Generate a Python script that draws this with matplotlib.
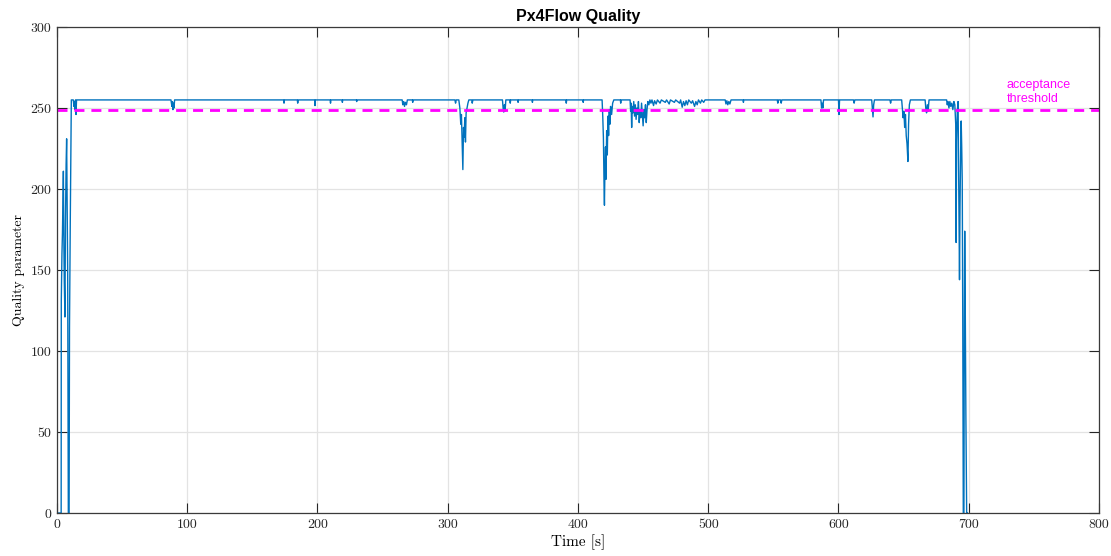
"""
Px4Flow quality parameter over time, with the acceptance threshold.
"""
import matplotlib
matplotlib.use("Agg")
import matplotlib.pyplot as plt

# ── data ──
time_s = [
    0, 3.2, 3.3, 3.8, 4.2, 4.9, 5.3, 5.6, 6.1, 6.5, 7.0, 7.4, 7.7, 8.2, 8.7, 9.3, 9.6, 10.2, 11.0,
    12.5, 13.0, 13.4, 13.8, 14.2, 14.6, 15.0,
    87.5, 88.2, 88.6, 89.0, 89.4, 89.8, 90.3,
    174.0, 174.3, 174.6, 184.5, 184.8, 185.2, 197.8, 198.1, 198.4, 209.7, 210.0, 210.3,
    218.8, 219.1, 219.4, 229.8, 230.1, 230.4,
    265.0, 265.5, 266.2, 266.8, 267.5, 268.3, 269.0, 272.8, 273.1, 273.4,
    305.5, 306.0, 306.5,
    308.5, 309.3, 310.0, 310.5, 311.0, 311.6, 312.1, 312.6, 313.1, 313.6, 314.1, 314.8, 315.5, 316.2,
    318.5, 318.8, 319.3,
    342.0, 342.5, 343.0, 343.5, 344.0, 344.6, 347.7, 348.0, 348.3, 353.7, 354.0, 354.3,
    364.7, 365.0, 365.3, 390.7, 391.0, 391.3, 403.7, 404.0, 404.3,
    418.5, 419.0, 419.5, 420.0, 420.3, 420.7, 421.1, 421.5, 422.0, 422.5, 423.0, 423.5, 424.0,
    424.5, 425.0, 425.8, 426.6, 427.5, 432.5, 432.8, 433.1,
    440.0, 440.4, 440.8, 441.2, 441.6, 442.2, 442.8, 443.4, 444.0, 444.6, 445.2, 445.8, 446.4,
    447.0, 447.6, 448.2, 448.8, 449.4, 450.0, 450.6, 451.2, 451.8, 452.4, 453.0, 453.6, 454.4,
    455.2, 456.0, 456.8, 458.0, 458.8, 460.0, 461.0, 463.0, 464.0, 467.0, 468.0, 470.0, 471.0,
    474.0, 475.0, 478.0, 478.8, 480.0, 481.0, 482.0, 483.0, 484.0, 485.0, 487.0, 488.0, 489.5,
    490.5, 491.5, 492.5, 494.0, 495.0, 496.5, 497.5,
    513.0, 513.6, 514.3, 515.0, 515.8, 516.6, 517.5, 526.7, 527.0, 527.3,
    553.0, 553.4, 553.8, 555.5, 556.0, 556.5,
    586.5, 587.0, 587.5, 588.0, 588.5, 600.0, 600.4, 600.8, 611.5, 612.0, 612.5,
    625.5, 626.0, 626.5, 627.0, 627.6, 639.5, 640.0, 640.5,
    648.5, 649.0, 649.6, 650.2, 650.8, 651.4, 652.0, 652.6, 653.3, 653.8, 654.4, 655.2,
    666.5, 667.0, 667.6, 668.2, 668.8, 669.5,
    683.0, 683.5, 684.0, 684.8, 685.5, 686.2, 687.0, 687.8, 688.6, 689.3,
    690.0, 690.3, 690.7, 691.2, 691.8, 692.3, 692.9, 693.3, 693.8, 694.2, 694.6, 695.0, 695.4,
    695.8, 696.3, 696.6, 696.9, 697.3, 697.8, 698.4, 699.0,
]
quality = [
    0, 0, 131, 160, 173, 211, 165, 143, 121, 180, 215, 231, 200, 150, 0, 0, 115, 180, 255,
    255, 251, 254, 249, 255, 246, 255,
    255, 251, 254, 249, 253, 250, 255,
    255, 253, 255, 255, 253, 255, 255, 251.5, 255, 255, 253, 255,
    255, 253.5, 255, 255, 254, 255,
    255, 252, 254, 251, 253.5, 252, 255, 255, 253.5, 255,
    255, 253, 255,
    255, 250, 240, 246, 230, 212, 238, 232, 244, 229, 247, 250, 253, 255,
    255, 253, 255,
    255, 250, 247.5, 252, 248, 255, 255, 253, 255, 255, 253.5, 255,
    255, 253.5, 255, 255, 253, 255, 255, 253.5, 255,
    255, 245, 232, 202, 190, 214, 226, 206, 236, 221, 245, 233, 249,
    240, 251, 246, 253, 255, 255, 253, 255,
    255, 248, 253, 238, 251, 247, 254, 245, 252, 243, 250, 246, 254,
    241, 249, 244, 253, 246, 239, 249, 244, 252, 241, 249, 254, 252,
    255, 253, 255, 251.5, 254.5, 252.5, 255, 253, 255, 253.5, 255, 252.5, 255,
    253.5, 255, 253, 255, 250.5, 254, 251.5, 254.5, 252, 255, 253, 254.5, 251,
    254, 252, 255, 253, 255, 253.5, 255,
    255, 252.5, 254.5, 252, 254, 252.5, 255, 255, 253.5, 255,
    255, 253, 255, 255, 253, 255,
    255, 250, 253, 250, 255, 255, 246, 255, 255, 253, 255,
    255, 250, 244.5, 252, 255, 255, 253, 255,
    255, 250, 244, 248, 238, 246, 233, 228, 217, 240, 252, 255,
    255, 250, 247, 252, 248, 255,
    255, 252, 254, 250, 254, 251, 253, 249, 254, 252,
    240, 167, 230, 248, 254, 200, 144, 190, 225, 242, 226, 205, 120,
    0, 0, 120, 174, 130, 60, 0, 0,
]
threshold = 249
x_ticks = [0, 100, 200, 300, 400, 500, 600, 700, 800]
y_ticks = [0, 50, 100, 150, 200, 250, 300]

fig = plt.figure(figsize=(11.11, 5.56), dpi=100)
ax = fig.add_axes([0.0513, 0.0773, 0.9379, 0.8741])

ax.plot(time_s, quality, color="#0072BD", lw=1.0)
ax.axhline(threshold, color="#FF00FF", lw=2.0, dashes=(3.6, 2.5))
ax.text(729, 253.5, "acceptance\nthreshold", color="#FF00FF", fontsize=9,
        fontfamily="Liberation Sans", linespacing=1.3)

ax.set_xlim(0, 800); ax.set_ylim(0, 300)
ax.set_xticks(x_ticks); ax.set_yticks(y_ticks)
ax.grid(True, color="#E3E3E3", lw=0.9)
ax.set_axisbelow(True)
ax.tick_params(direction="in", length=7, width=0.8, colors="#262626",
               top=True, right=True, labelsize=10, pad=4)
for lab in ax.get_xticklabels() + ax.get_yticklabels():
    lab.set_fontfamily("cmr10")
for sp in ax.spines.values():
    sp.set_color("#3a3a3a"); sp.set_linewidth(0.9)

ax.set_xlabel("Time [s]", fontfamily="cmr10", fontsize=11, labelpad=3)
ax.set_ylabel("Quality parameter", fontfamily="cmr10", fontsize=10, labelpad=4)
ax.set_title("Px4Flow Quality", fontfamily=["Liberation Sans Narrow", "Liberation Sans"],
             fontweight="bold", fontsize=11.5, pad=4)

fig.savefig("out.png", dpi=100)
